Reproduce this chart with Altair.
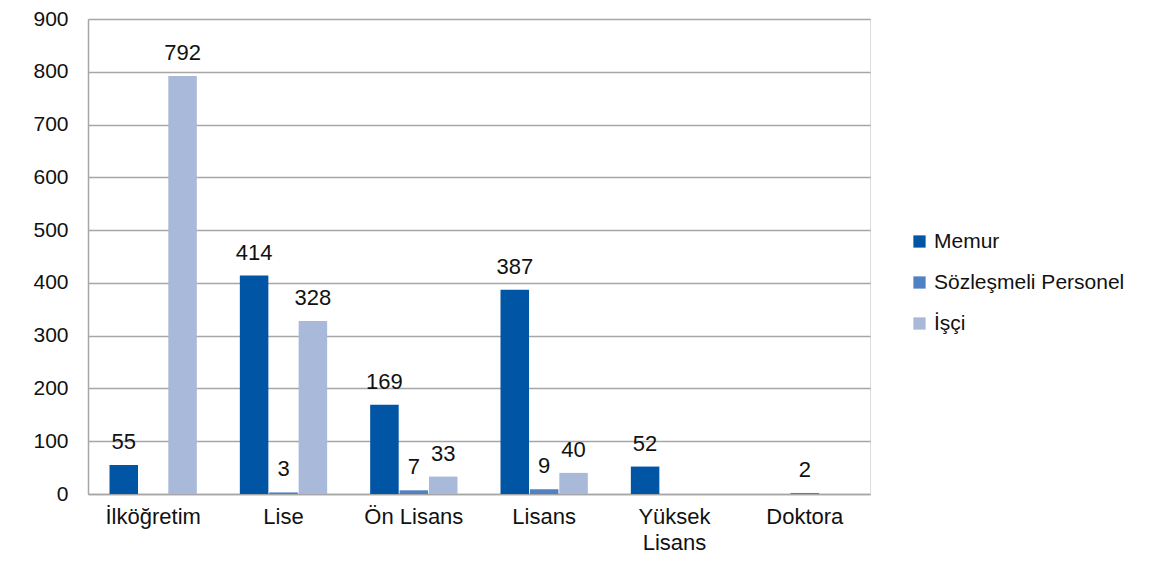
import altair as alt
import pandas as pd

categories = ["İlköğretim", "Lise", "Ön Lisans", "Lisans", "Yüksek Lisans", "Doktora"]
series = ["Memur", "Sözleşmeli Personel", "İşçi"]
memur = [55, 414, 169, 387, 52, None]
sozlesmeli = [None, 3, 7, 9, None, 2]
isci = [792, 328, 33, 40, None, None]
colors = ["#0055A5", "#4F81C4", "#A9B9D9"]
y_ticks = [0, 100, 200, 300, 400, 500, 600, 700, 800, 900]

rows = []
for i, c in enumerate(categories):
    for s, vals in zip(series, [memur, sozlesmeli, isci]):
        if vals[i] is not None:
            rows.append({"Kategori": c, "Seri": s, "Değer": vals[i]})
df = pd.DataFrame(rows)

FONT = "Liberation Sans"
FS = 22

x_enc = alt.X(
    "Kategori:N",
    sort=categories,
    scale=alt.Scale(domain=categories, paddingInner=0.33, paddingOuter=0.165),
    axis=alt.Axis(
        title=None,
        labelAngle=0,
        labelFontSize=FS,
        labelFont=FONT,
        labelColor="#111111",
        labelPadding=12,
        labelLineHeight=26,
        ticks=False,
        domainColor="#A6A6A6",
        domainWidth=1.5,
        labelExpr="datum.label == 'Yüksek Lisans' ? ['Yüksek', 'Lisans'] : datum.label",
    ),
)
xoff = alt.XOffset(
    "Seri:N",
    sort=series,
    scale=alt.Scale(domain=series, paddingInner=0.03, paddingOuter=0),
)
y_enc = alt.Y(
    "Değer:Q",
    scale=alt.Scale(domain=[0, 900], nice=False),
    axis=alt.Axis(
        title=None,
        values=y_ticks,
        labelFontSize=21,
        labelFont=FONT,
        labelColor="#111111",
        labelPadding=20,
        ticks=False,
        grid=True,
        gridColor="#A6A6A6",
        gridWidth=1.5,
        domainColor="#A6A6A6",
        domainWidth=1.5,
    ),
)

bars = alt.Chart(df).mark_bar().encode(
    x=x_enc,
    xOffset=xoff,
    y=y_enc,
    color=alt.Color(
        "Seri:N",
        sort=series,
        scale=alt.Scale(domain=series, range=colors),
        legend=alt.Legend(
            title=None,
            orient="none",
            legendX=821,
            legendY=212,
            symbolType="square",
            symbolSize=150,
            symbolStrokeWidth=0,
            labelFontSize=21,
            labelFont=FONT,
            labelColor="#111111",
            labelLimit=400,
            rowPadding=19,
            labelOffset=4,
        ),
    ),
)

labels = alt.Chart(df).mark_text(
    baseline="alphabetic", dy=-16, fontSize=FS, font=FONT, color="#111111"
).encode(
    x=alt.X("Kategori:N", sort=categories),
    xOffset=alt.XOffset("Seri:N", sort=series),
    y=alt.Y("Değer:Q"),
    text=alt.Text("Değer:Q"),
)

chart = (
    alt.layer(bars, labels)
    .properties(
        width=782,
        height=475,
        autosize=alt.AutoSizeParams(type="none"),
        padding={"left": 80, "top": 11, "right": 285, "bottom": 60},
    )
    .configure_view(stroke=None)
    .configure(background="white")
)

chart.save("out.html", embed_options={"renderer": "svg", "actions": False})
